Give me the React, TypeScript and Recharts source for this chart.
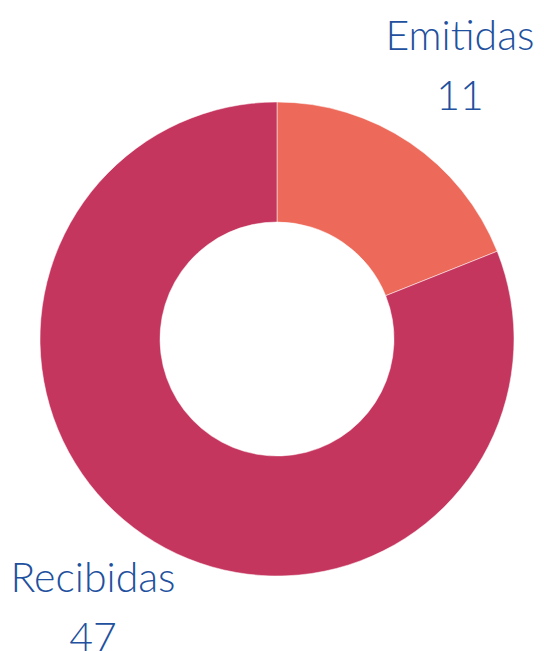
import { PieChart, Pie, Cell } from "recharts";

const names = ["Emitidas", "Recibidas"];
const values = [11, 47];
const colors = ["#ED6A5A", "#C5365F"];

const data = names.map((name, i) => ({ name, value: values[i] }));

const TEXT = "#21509E";

// label placement relative to the pie centre
const labelOffsets: Record<string, { dx: number; dy: number }> = {
  Emitidas: { dx: 183, dy: -289 },
  Recibidas: { dx: -184, dy: 253 },
};

function renderLabel(props: any) {
  const { cx, cy, name, value } = props;
  const off = labelOffsets[name];
  const x = cx + off.dx;
  const y = cy + off.dy;
  return (
    <g>
      <text x={x} y={y} textAnchor="middle" fill={TEXT} fontSize={41} fontFamily="Lato" fontWeight={300}>
        {name}
      </text>
      <text x={x} y={y + 60} textAnchor="middle" fill={TEXT} fontSize={41} fontFamily="Lato" fontWeight={300}>
        {value}
      </text>
    </g>
  );
}

export default function App() {
  return (
    <div style={{ position: "absolute", left: 0, top: 0, width: 544, height: 651, background: "#fff" }}>
      <PieChart width={544} height={651} margin={{ top: 0, right: 0, bottom: 0, left: 0 }}>
        <Pie
          data={data}
          dataKey="value"
          nameKey="name"
          cx={277}
          cy={339}
          innerRadius={117}
          outerRadius={237}
          startAngle={90}
          endAngle={-270}
          stroke="#ffffff"
          strokeWidth={0.5}
          label={renderLabel}
          labelLine={false}
          isAnimationActive={false}
        >
          {data.map((d, i) => (
            <Cell key={d.name} fill={colors[i]} />
          ))}
        </Pie>
      </PieChart>
    </div>
  );
}
